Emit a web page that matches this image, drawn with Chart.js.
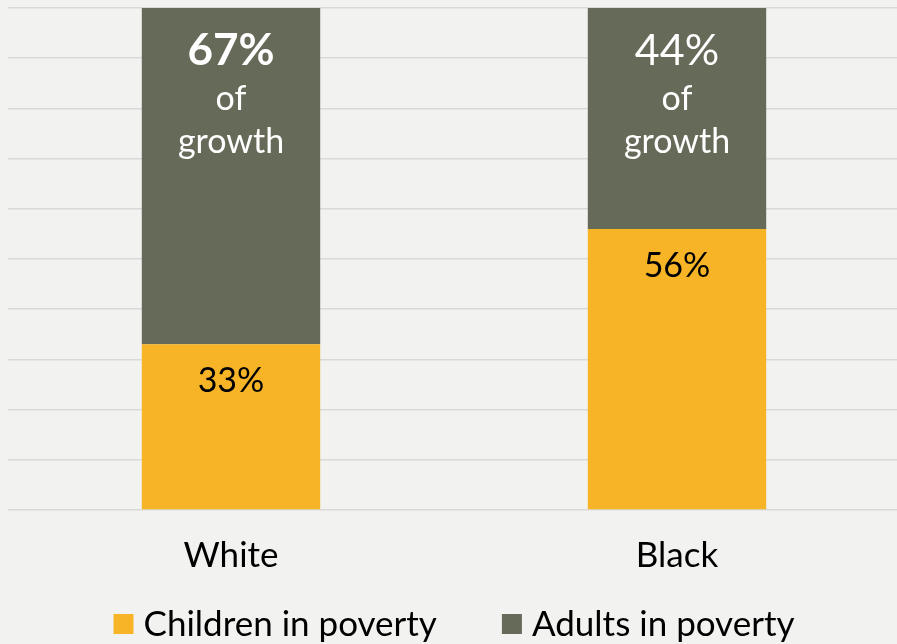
<!DOCTYPE html>
<html>
<head>
<meta charset="utf-8">
<script src="https://cdn.jsdelivr.net/npm/chart.js@4.4.0/dist/chart.umd.min.js"></script>
<style>
  html, body { margin: 0; padding: 0; background: #f2f2f1; overflow: hidden; }
  #wrap { width: 900px; height: 644px; }
</style>
</head>
<body>
<div id="wrap"><canvas id="chart"></canvas></div>
<script>
// Share of poverty growth, split by children / adults
const categories = ['White', 'Black'];
const childrenShare = [33, 56];
const adultsShare = [67, 44];
const seriesNames = ['Children in poverty', 'Adults in poverty'];
const yMax = 100;
const yStep = 10;

const FONT = 'Lato, "Open Sans", sans-serif';

// Writes the percentages inside each bar segment
const segmentLabels = {
    id: 'segmentLabels',
    afterDatasetsDraw(chart, args, opts) {
        const ctx = chart.ctx;
        ctx.save();
        ctx.textAlign = 'center';
        ctx.textBaseline = 'alphabetic';

        chart.getDatasetMeta(0).data.forEach((bar, i) => {
            ctx.fillStyle = '#000';
            ctx.font = '34px ' + FONT;
            ctx.fillText(childrenShare[i] + '%', bar.x, bar.y + 48);
        });

        chart.getDatasetMeta(1).data.forEach((bar, i) => {
            ctx.fillStyle = '#fff';
            ctx.font = (i === opts.emphasize ? 'bold 44px ' : '43px ') + FONT;
            ctx.fillText(adultsShare[i] + '%', bar.x, bar.y + 57);
            ctx.font = '34px ' + FONT;
            ctx.fillText('of', bar.x, bar.y + 102);
            ctx.fillText('growth', bar.x, bar.y + 145);
        });
        ctx.restore();
    }
};

// Legend row under the axis: square swatch + series name
const bottomLegend = {
    id: 'bottomLegend',
    afterDraw(chart, args, opts) {
        const ctx = chart.ctx;
        const sets = chart.data.datasets;
        ctx.save();
        ctx.font = opts.size + 'px ' + FONT;
        ctx.textBaseline = 'middle';
        ctx.textAlign = 'left';
        const widths = sets.map(ds => opts.box + opts.textGap + ctx.measureText(ds.label).width);
        const total = widths.reduce((a, b) => a + b, 0) + opts.itemGap * (sets.length - 1);
        let x = (chart.width - total) / 2 + opts.shift;
        const y = opts.y;
        sets.forEach((ds, i) => {
            ctx.fillStyle = ds.backgroundColor;
            ctx.fillRect(x, y - opts.box / 2, opts.box, opts.box);
            ctx.fillStyle = '#000';
            ctx.fillText(ds.label, x + opts.box + opts.textGap, y + 1);
            x += widths[i] + opts.itemGap;
        });
        ctx.restore();
    }
};

new Chart(document.getElementById('chart').getContext('2d'), {
    type: 'bar',
    data: {
        labels: categories,
        datasets: [
            {
                label: seriesNames[0],
                data: childrenShare,
                backgroundColor: '#f7b426',
                categoryPercentage: 0.4,
                barPercentage: 1.0
            },
            {
                label: seriesNames[1],
                data: adultsShare,
                backgroundColor: '#666a58',
                categoryPercentage: 0.4,
                barPercentage: 1.0
            }
        ]
    },
    options: {
        responsive: true,
        maintainAspectRatio: false,
        animation: false,
        layout: { padding: { left: 8, top: 8, right: 0, bottom: 42 } },
        scales: {
            x: {
                stacked: true,
                grid: { display: false, drawTicks: false },
                border: { display: false },
                ticks: {
                    color: '#000',
                    font: { family: FONT, size: 35 },
                    padding: 25
                }
            },
            y: {
                stacked: true,
                min: 0,
                max: yMax,
                ticks: { display: false, stepSize: yStep },
                grid: { color: '#d9d9d9', lineWidth: 1.5, drawTicks: false },
                border: { display: false }
            }
        },
        plugins: {
            legend: { display: false },
            tooltip: { enabled: false },
            segmentLabels: { emphasize: 0 },
            bottomLegend: { size: 35, box: 20, textGap: 10, itemGap: 65, y: 624, shift: 4 }
        }
    },
    plugins: [segmentLabels, bottomLegend]
});
</script>
</body>
</html>
